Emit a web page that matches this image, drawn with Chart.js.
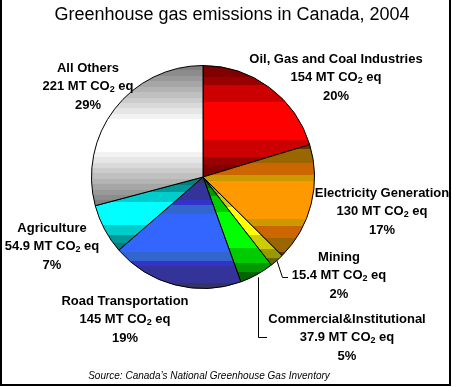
<!DOCTYPE html>
<html>
<head>
<meta charset="utf-8">
<script src="https://cdn.jsdelivr.net/npm/chart.js@4/dist/chart.umd.min.js"></script>
<style>
  html, body { margin: 0; padding: 0; background: #fff; }
  #wrap { position: relative; width: 452px; height: 387px; }
</style>
</head>
<body>
<div id="wrap"><canvas id="chart" width="452" height="387"></canvas></div>
<script>
const categories    = ['Oil, Gas and Coal Industries', 'Electricity Generation', 'Mining',
                       'Commercial&Institutional', 'Road Transportation', 'Agriculture', 'All Others'];
const emissions     = [154, 130, 15.4, 37.9, 145, 54.9, 221];
const valueLabels   = ['154', '130', '15.4', '37.9', '145', '54.9', '221'];
const percentLabels = ['20%', '17%', '2%', '5%', '19%', '7%', '29%'];

// shading bands for each slice, from the outer edge to the middle band
const bandColors = [
  ['#800000', '#990000', '#CC0000', '#FF0000'],
  ['#663300', '#996600', '#CC6600', '#CC9900', '#FF9900'],
  ['#666600', '#999900', '#CCCC00', '#FFFF00'],
  ['#006600', '#009900', '#00CC00', '#00FF00'],
  ['#333366', '#333399', '#3333CC', '#3366CC', '#3366FF'],
  ['#008080', '#009999', '#00CCCC', '#00FFFF'],
  ['#808080', '#8C8C8C', '#999999', '#A6A6A6', '#B3B3B3', '#C0C0C0',
   '#CCCCCC', '#D9D9D9', '#E6E6E6', '#F2F2F2', '#FFFFFF']
];
const bandWidths = [
  [12, 8, 17, 38],
  [4, 14, 12, 6, 38],
  [8, 10, 14, 30],
  [10, 8, 15, 34],
  [6, 17, 5, 9, 38],
  [8, 8, 10, 24],
  [5, 5, 5, 5, 5, 5, 5, 5, 5, 5, 30]
];

// label block: centre x, centre y of first line
const labelPos = [
  [336, 59], [382, 193], [339, 257], [347, 319], [125, 301], [52, 228], [88, 68]
];
const lineGap = 18.5;

function sliceShade(context) {
  const chart = context.chart;
  const area = chart.chartArea;
  const i = context.dataIndex;
  const colors = bandColors[i];
  if (!area) return colors[colors.length - 1];
  const cx = (area.left + area.right) / 2;
  const cy = (area.top + area.bottom) / 2;
  const r = Math.min(area.right - area.left, area.bottom - area.top) / 2;
  const total = emissions.reduce((s, v) => s + v, 0);
  let before = 0;
  for (let k = 0; k < i; k++) before += emissions[k];
  const a0 = -Math.PI / 2 + 2 * Math.PI * before / total;
  const a1 = a0 + 2 * Math.PI * emissions[i] / total;
  const ys = [cy, cy + r * Math.sin(a0), cy + r * Math.sin(a1)];
  if (a0 <= Math.PI / 2 && a1 >= Math.PI / 2) ys.push(cy + r);
  const top = Math.min(...ys);
  const bottom = Math.max(...ys);
  const g = chart.ctx.createLinearGradient(0, top, 0, bottom);
  const w = bandWidths[i];
  const seqC = colors.concat(colors.slice(0, -1).reverse());
  const seqW = w.concat(w.slice(0, -1).reverse());
  const sum = seqW.reduce((s, v) => s + v, 0);
  let pos = 0;
  seqC.forEach(function(c, k) {
    g.addColorStop(pos / sum, c);
    pos += seqW[k];
    g.addColorStop(Math.min(pos / sum, 1), c);
  });
  return g;
}

// draws one line made of parts, centred on cx
function drawParts(ctx, parts, cx, y) {
  let width = 0;
  parts.forEach(function(p) { ctx.font = p.font; width += ctx.measureText(p.t).width; });
  let x = cx - width / 2;
  parts.forEach(function(p) {
    ctx.font = p.font;
    ctx.fillText(p.t, x, y + (p.dy || 0));
    x += ctx.measureText(p.t).width;
  });
}

const boldFont = 'bold 13px "Liberation Sans", Arial, sans-serif';
const subFont  = 'bold 9px "Liberation Sans", Arial, sans-serif';

const decorations = {
  id: 'decorations',
  afterDraw(chart) {
    const ctx = chart.ctx;
    const meta = chart.getDatasetMeta(0);
    ctx.save();
    ctx.fillStyle = '#000';
    ctx.strokeStyle = '#000';

    // title
    ctx.font = '18px "Liberation Sans", Arial, sans-serif';
    ctx.textAlign = 'center';
    ctx.textBaseline = 'alphabetic';
    ctx.fillText('Greenhouse gas emissions in Canada, 2004', 232, 20);

    // source
    ctx.font = 'italic 10px "Liberation Sans", Arial, sans-serif';
    ctx.fillText('Source: Canada\u2019s National Greenhouse Gas Inventory', 209, 379);

    // slice labels
    ctx.textAlign = 'left';
    ctx.textBaseline = 'middle';
    categories.forEach(function(name, i) {
      const cx = labelPos[i][0];
      const y = labelPos[i][1];
      drawParts(ctx, [{ t: name, font: boldFont }], cx, y);
      drawParts(ctx, [
        { t: valueLabels[i] + ' MT CO', font: boldFont },
        { t: '2', font: subFont, dy: 3 },
        { t: ' eq', font: boldFont }
      ], cx, y + lineGap);
      drawParts(ctx, [{ t: percentLabels[i], font: boldFont }], cx, y + 2 * lineGap);
    });

    // leader lines for the small slices
    function edgePoint(i, gap) {
      const arc = meta.data[i];
      const mid = (arc.startAngle + arc.endAngle) / 2;
      const rr = arc.outerRadius + gap;
      return [arc.x + Math.cos(mid) * rr, arc.y + Math.sin(mid) * rr];
    }
    ctx.lineWidth = 1;
    let p = edgePoint(2, 0);
    ctx.beginPath();
    ctx.moveTo(p[0], p[1]);
    ctx.lineTo(282.5, 277.5);
    ctx.lineTo(288, 277.5);
    ctx.stroke();

    p = edgePoint(3, 3);
    const lx = Math.round(p[0]) + 0.5;
    ctx.beginPath();
    ctx.moveTo(lx, p[1]);
    ctx.lineTo(lx, 337.5);
    ctx.lineTo(267, 337.5);
    ctx.stroke();

    // frame
    ctx.fillRect(0, 0, 2, 386);
    ctx.fillRect(449, 0, 2, 386);
    ctx.fillRect(0, 384, 451, 2);
    ctx.restore();
  }
};

new Chart(document.getElementById('chart').getContext('2d'), {
  type: 'pie',
  data: {
    labels: categories,
    datasets: [{
      data: emissions,
      backgroundColor: sliceShade,
      borderColor: '#000',
      borderWidth: 1
    }]
  },
  options: {
    responsive: false,
    animation: false,
    events: [],
    layout: { padding: { left: 91, right: 137, top: 65, bottom: 98 } },
    plugins: {
      legend: { display: false },
      title: { display: false },
      tooltip: { enabled: false }
    }
  },
  plugins: [decorations]
});
</script>
</body>
</html>
